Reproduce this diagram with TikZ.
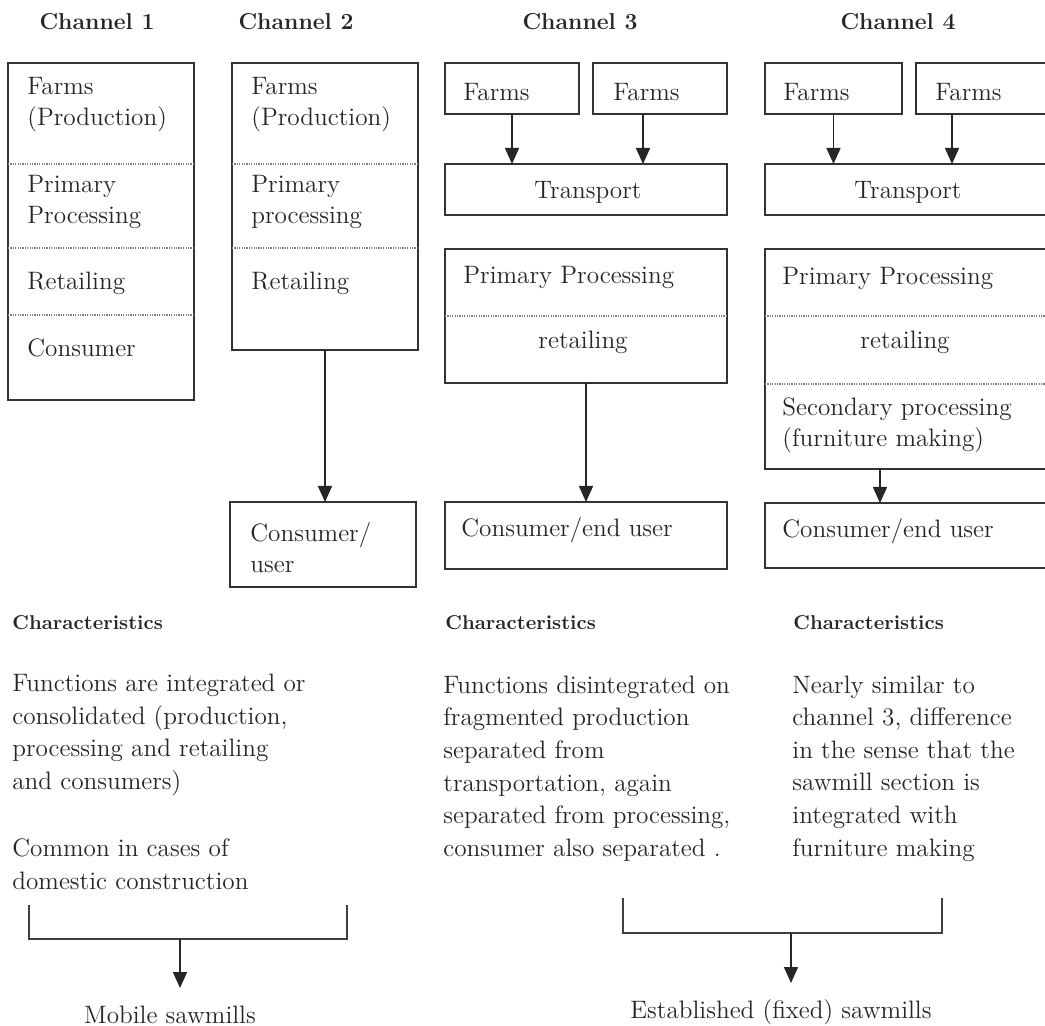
\documentclass[tikz,border=0pt]{standalone}
\usetikzlibrary{arrows.meta}
\begin{document}
\begin{tikzpicture}[
    x=0.5pt, y=-0.5pt,
    every node/.style={text=black!85},
    box/.style={draw=black!80, line width=0.9pt, inner sep=0pt, outer sep=0pt},
    divider/.style={draw=gray, line width=0.55pt, dash pattern=on 0.6pt off 0.6pt},
    cell/.style={font=\fontsize{12.6}{15.5}\selectfont, align=left, anchor=west, inner sep=0pt},
    mid cell/.style={font=\fontsize{12.6}{15.5}\selectfont, inner sep=0pt},
    chan title/.style={font=\bfseries\fontsize{11.5}{14}\selectfont, inner sep=0pt},
    char head/.style={font=\bfseries\fontsize{10}{12}\selectfont, anchor=west, inner sep=0pt},
    body text/.style={font=\fontsize{12.6}{16.3}\selectfont, align=left, anchor=west, inner sep=0pt},
    arr/.style={-{Triangle[width=7pt,length=8pt]}, line width=0.8pt, draw=black!85},
    bracket/.style={line width=0.8pt, draw=black!75},
  ]

  % page, in pixel units of the scan
  \fill[white] (0,0) rectangle (1045,1026);
  \useasboundingbox (0,0) rectangle (1045,1026);

  % --- Channel titles ---
  \node[chan title] (h1) at (97,22) {Channel 1};
  \node[chan title] (h2) at (296,22) {Channel 2};
  \node[chan title] (h3) at (580,22) {Channel 3};
  \node[chan title] (h4) at (898,22) {Channel 4};

  % --- Channel 1: everything in one box ---
  \node[box, minimum width=93pt, minimum height=168.5pt] (c1) at (101,231.5) {};
  \draw[divider] (c1.west |- 0,164) -- (c1.east |- 0,164);
  \draw[divider] (c1.west |- 0,248) -- (c1.east |- 0,248);
  \draw[divider] (c1.west |- 0,315) -- (c1.east |- 0,315);
  \node[cell] (c1farm) at (27,104.5) {Farms\\(Production)};
  \node[cell] (c1proc) at (27,201.5) {Primary\\Processing};
  \node[cell] (c1ret) at (27,283) {Retailing};
  \node[cell] (c1cons) at (27,348) {Consumer};

  % --- Channel 2 ---
  \node[box, minimum width=93pt, minimum height=143.5pt] (c2) at (325,206.5) {};
  \draw[divider] (c2.west |- 0,164) -- (c2.east |- 0,164);
  \draw[divider] (c2.west |- 0,248) -- (c2.east |- 0,248);
  \node[cell] (c2farm) at (251,104.5) {Farms\\(Production)};
  \node[cell] (c2proc) at (251,201.5) {Primary\\processing};
  \node[cell] (c2ret) at (251,283) {Retailing};
  \node[box, minimum width=93pt, minimum height=42.5pt] (u2) at (323,544.5) {};
  \node[cell] (u2txt) at (250,548) {Consumer/\\user};
  \draw[arr] (c2.south) -- (c2.south |- u2.north);

  % --- Channel 3 ---
  \node[box, minimum width=67pt, minimum height=25.5pt] (f3a) at (512,88.5) {};
  \node[box, minimum width=67pt, minimum height=25.5pt] (f3b) at (660,88.5) {};
  \node[cell] (f3atxt) at (463,92) {Farms};
  \node[cell] (f3btxt) at (613,92) {Farms};
  \node[box, minimum width=141pt, minimum height=25.5pt] (t3) at (586,189.5) {};
  \node[mid cell] (t3txt) at (588,192) {Transport};
  \coordinate (a3) at ([xshift=-8.5pt]f3b.south);
  \draw[arr] (f3a.south) -- (f3a.south |- t3.north);
  \draw[arr] (a3) -- (a3 |- t3.north);
  \node[box, minimum width=141pt, minimum height=67pt] (p3) at (586,316) {};
  \draw[divider] (p3.west |- 0,316) -- (p3.east |- 0,316);
  \node[cell] (p3proc) at (463,277) {Primary Processing};
  \node[mid cell] (p3ret) at (583,342) {retailing};
  \node[box, minimum width=141pt, minimum height=33.5pt] (u3) at (586,535.5) {};
  \node[cell] (u3txt) at (461,530) {Consumer/end user};
  \draw[arr] (p3.south) -- (u3.north);

  % --- Channel 4 (runs off the right edge) ---
  \node[box, minimum width=68.5pt, minimum height=25.5pt] (f4a) at (833.5,88.5) {};
  \node[box, minimum width=67pt, minimum height=25.5pt] (f4b) at (983,88.5) {};
  \node[cell] (f4atxt) at (783,92) {Farms};
  \node[cell] (f4btxt) at (935,92) {Farms};
  \node[box, minimum width=142.5pt, minimum height=25.5pt] (t4) at (907.5,189.5) {};
  \node[mid cell] (t4txt) at (908,192) {Transport};
  \coordinate (a4) at ([xshift=-15.5pt]f4b.south);
  \draw[arr] (f4a.south) -- (f4a.south |- t4.north);
  \draw[arr] (a4) -- (a4 |- t4.north);
  \node[box, minimum width=142.5pt, minimum height=110pt] (p4) at (907.5,359) {};
  \draw[divider] (p4.west |- 0,316) -- (p4.east |- 0,316);
  \draw[divider] (p4.west |- 0,384) -- (p4.east |- 0,384);
  \node[cell] (p4proc) at (782,278) {Primary Processing};
  \node[mid cell] (p4ret) at (905,342) {retailing};
  \node[cell] (p4sec) at (782,425) {Secondary processing\\(furniture making)};
  \node[box, minimum width=142.5pt, minimum height=32.5pt] (u4) at (907.5,535.5) {};
  \node[cell] (u4txt) at (782,531) {Consumer/end user};
  \coordinate (a5) at ([xshift=-13.75pt]p4.south);
  \draw[arr] (a5) -- (a5 |- u4.north);

  % --- Characteristics ---
  \node[char head] (k1) at (12,623) {Characteristics};
  \node[char head] (k3) at (445,623) {Characteristics};
  \node[char head] (k4) at (793,623) {Characteristics};

  \node[body text] (d1) at (12,735) {Functions are integrated or\\consolidated (production,\\processing and retailing\\and consumers)};
  \node[body text] (d1b) at (12,864.5) {Common in cases of\\domestic construction};
  \node[body text] (d3) at (443,768.5) {Functions disintegrated on\\fragmented production\\separated from\\transportation, again\\separated from processing,\\consumer also separated .};
  \node[body text] (d4) at (792,768.5) {Nearly similar to\\channel 3, difference\\in the sense that the\\sawmill section is\\integrated with\\furniture making};

  % --- Brackets to sawmill types ---
  \coordinate (lbl) at (29,905);
  \coordinate (lbr) at (347,905);
  \coordinate (lbm) at (180,939);
  \coordinate (lbtip) at (180,988);
  \draw[bracket] (lbl) |- (lbr |- lbm) -- (lbr);
  \draw[arr] (lbm) -- (lbtip);
  \node[mid cell] (mobile) at (170,1015) {Mobile sawmills};

  \coordinate (rbl) at (623,898);
  \coordinate (rbr) at (942,898);
  \coordinate (rbm) at (791,933);
  \coordinate (rbtip) at (791,983);
  \draw[bracket] (rbl) |- (rbr |- rbm) -- (rbr);
  \draw[arr] (rbm) -- (rbtip);
  \node[mid cell] (fixed) at (781,1012) {Established (fixed) sawmills};

\end{tikzpicture}
\end{document}
